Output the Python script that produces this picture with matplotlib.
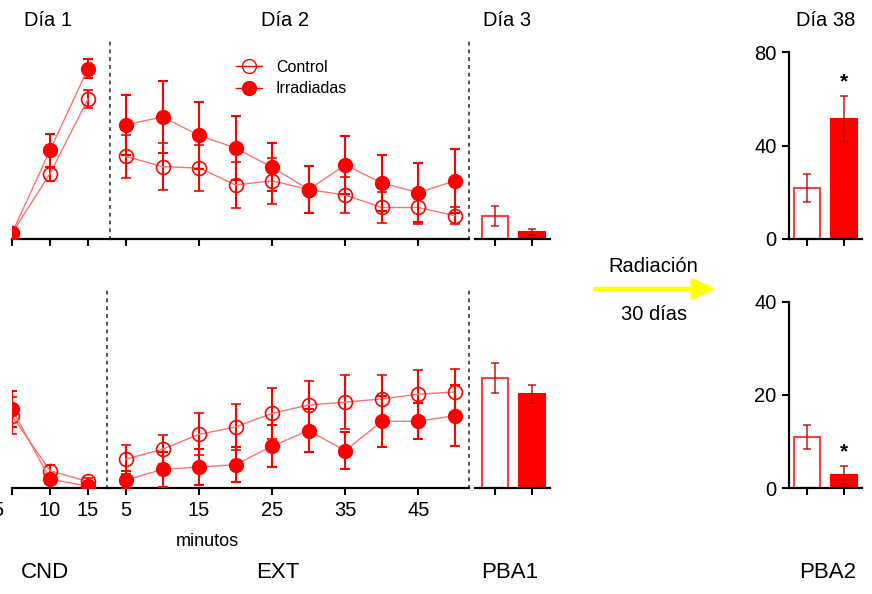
import matplotlib
matplotlib.use("Agg")
import matplotlib.pyplot as plt
import matplotlib.transforms as mtransforms
from matplotlib.lines import Line2D
from matplotlib.patches import FancyArrowPatch

plt.rcParams["font.family"] = ["Liberation Sans", "DejaVu Sans"]

# --- data -------------------------------------------------------------------
cnd_min = [5, 10, 15]
ext_min = [5, 10, 15, 20, 25, 30, 35, 40, 45, 50]
groups = ["Control", "Irradiadas"]

# top row (0-80 scale)
cnd_top_ctrl = [2.5, 28, 60]
cnd_top_ctrl_err = [1.0, 3.0, 4.0]
cnd_top_irr = [2.5, 38, 73]
cnd_top_irr_err = [1.0, 7.0, 4.0]

ext_top_ctrl = [35.4, 31.0, 30.4, 23.2, 24.9, 21.2, 18.8, 13.5, 13.5, 10.0]
ext_top_ctrl_err = [9.3, 10.0, 9.9, 9.9, 9.9, 10.1, 7.6, 6.6, 6.9, 3.7]
ext_top_irr = [49.0, 52.3, 44.4, 39.0, 30.7, 21.2, 31.7, 24.0, 19.9, 24.9]
ext_top_irr_err = [12.8, 15.3, 14.4, 13.6, 10.3, 9.9, 12.5, 12.0, 12.6, 13.6]

pba1_top = [10.0, 2.9]
pba1_top_err = [4.3, 1.3]
pba2_top = [21.9, 51.4]
pba2_top_err = [5.9, 9.9]

# bottom row (0-40 scale)
cnd_bot_ctrl = [15.5, 3.7, 1.4]
cnd_bot_ctrl_err = [3.9, 1.3, 0.8]
cnd_bot_irr = [16.9, 1.9, 0.4]
cnd_bot_irr_err = [3.9, 0.8, 0.5]

ext_bot_ctrl = [6.2, 8.3, 11.5, 13.1, 16.0, 17.8, 18.4, 19.1, 20.1, 20.6]
ext_bot_ctrl_err = [3.1, 3.1, 4.5, 4.9, 5.5, 5.1, 5.8, 5.1, 5.3, 4.9]
ext_bot_irr = [1.7, 4.0, 4.5, 5.0, 9.0, 12.3, 8.0, 14.3, 14.3, 15.5]
ext_bot_irr_err = [2.0, 3.7, 3.9, 3.8, 4.4, 4.6, 3.9, 5.5, 3.9, 6.6]

pba1_bot = [23.6, 20.2]
pba1_bot_err = [3.2, 1.9]
pba2_bot = [11.0, 2.85]
pba2_bot_err = [2.6, 1.9]

RED = "#ff0000"
LINE = "#ff7070"
BAR_ERR = "#b80000"

W, H = 872, 594
fig = plt.figure(figsize=(W / 100, H / 100), dpi=100)


def box(x0, y0, x1, y1):
    return [x0 / W, 1 - y1 / H, (x1 - x0) / W, (y1 - y0) / H]


def style_axis(ax, xticks, labels=None, fs=14.5):
    for s in ("top", "right", "left"):
        ax.spines[s].set_visible(False)
    ax.spines["bottom"].set_linewidth(1.6)
    ax.set_yticks([])
    ax.set_xticks(xticks)
    ax.tick_params(axis="x", length=5, width=1.5, direction="out", pad=4,
                   labelsize=fs)
    if labels is None:
        ax.set_xticklabels([])
    else:
        ax.set_xticklabels(labels)
    ax.patch.set_alpha(0)


def curves(ax, x, yc, ec, yi, ei):
    ax.errorbar(x, yc, yerr=ec, fmt="o", ms=10, mfc="none", mec=RED, mew=1.2,
                ecolor=RED, elinewidth=1.5, capsize=3.5, capthick=1.5, ls="-",
                color=LINE, lw=1.0, zorder=3)
    ax.errorbar(x, yi, yerr=ei, fmt="o", ms=10, mfc=RED, mec=RED,
                ecolor=RED, elinewidth=1.5, capsize=3.5, capthick=1.5, ls="-",
                color=LINE, lw=1.0, zorder=4)


def bars(ax, vals, errs):
    xs = [0, 1]
    ax.bar(xs, vals, width=0.7, color=["white", RED],
           edgecolor=["#ff4040", RED], linewidth=1.5, zorder=2)
    ax.errorbar(xs, vals, yerr=errs, fmt="none", ecolor=BAR_ERR, alpha=0.75,
                elinewidth=1.3, capsize=3, capthick=1.3, zorder=3)


def dotted(ax):
    for s in ("left", "right"):
        ax.spines[s].set_visible(True)
        ax.spines[s].set_linestyle((0, (1, 3)))
        ax.spines[s].set_linewidth(1.4)
        ax.spines[s].set_color("#555555")


TOP_MAX = 80 * 199 / 186.7
BOT_MAX = 40 * 198 / 186.6

# --- top row ----------------------------------------------------------------
ax = fig.add_axes(box(12, 40, 110, 239))
curves(ax, cnd_min, cnd_top_ctrl, cnd_top_ctrl_err, cnd_top_irr, cnd_top_irr_err)
ax.set_xlim(5, 17.9)
ax.set_ylim(0, TOP_MAX)
style_axis(ax, cnd_min)

ax = fig.add_axes(box(110, 40, 469, 239))
curves(ax, ext_min, ext_top_ctrl, ext_top_ctrl_err, ext_top_irr, ext_top_irr_err)
ax.set_xlim(2.81, 51.92)
ax.set_ylim(0, TOP_MAX)
style_axis(ax, [5, 15, 25, 35, 45])
dotted(ax)

ax = fig.add_axes(box(475, 40, 550, 239))
bars(ax, pba1_top, pba1_top_err)
ax.set_xlim(-0.54, 1.49)
ax.set_ylim(0, TOP_MAX)
style_axis(ax, [0, 1])

ax = fig.add_axes(box(789, 52.3, 862, 239))
bars(ax, pba2_top, pba2_top_err)
ax.set_xlim(-0.49, 1.49)
ax.set_ylim(0, 80)
style_axis(ax, [0, 1])
ax.spines["left"].set_visible(True)
ax.spines["left"].set_linewidth(1.6)
ax.set_yticks([0, 40, 80])
ax.tick_params(axis="y", length=5, width=1.5, labelsize=14.5, pad=4)
ax.text(1, pba2_top[1] + pba2_top_err[1] + 2, "*", ha="center", va="bottom",
        fontsize=15, fontweight="bold", clip_on=False)

# --- bottom row -------------------------------------------------------------
ax = fig.add_axes(box(12, 290, 107, 488))
curves(ax, cnd_min, cnd_bot_ctrl, cnd_bot_ctrl_err, cnd_bot_irr, cnd_bot_irr_err)
ax.set_xlim(5, 17.5)
ax.set_ylim(0, BOT_MAX)
style_axis(ax, cnd_min, [str(v) for v in cnd_min])
first = ax.get_xticklabels()[0]
first.set_transform(first.get_transform() +
                    mtransforms.ScaledTranslation(-0.14, 0, fig.dpi_scale_trans))

ax = fig.add_axes(box(107, 290, 469, 488))
curves(ax, ext_min, ext_bot_ctrl, ext_bot_ctrl_err, ext_bot_irr, ext_bot_irr_err)
ax.set_xlim(2.40, 51.92)
ax.set_ylim(0, BOT_MAX)
style_axis(ax, [5, 15, 25, 35, 45], ["5", "15", "25", "35", "45"])
dotted(ax)

ax = fig.add_axes(box(475, 290, 550, 488))
bars(ax, pba1_bot, pba1_bot_err)
ax.set_xlim(-0.54, 1.49)
ax.set_ylim(0, BOT_MAX)
style_axis(ax, [0, 1])

ax = fig.add_axes(box(789, 301.7, 862, 488.3))
bars(ax, pba2_bot, pba2_bot_err)
ax.set_xlim(-0.49, 1.49)
ax.set_ylim(0, 40)
style_axis(ax, [0, 1])
ax.spines["left"].set_visible(True)
ax.spines["left"].set_linewidth(1.6)
ax.set_yticks([0, 20, 40])
ax.tick_params(axis="y", length=5, width=1.5, labelsize=14.5, pad=4)
ax.text(1, pba2_bot[1] + pba2_bot_err[1] + 1, "*", ha="center", va="bottom",
        fontsize=15, fontweight="bold", clip_on=False)

# --- legend -----------------------------------------------------------------
handles = [
    Line2D([], [], color=RED, lw=1.0, marker="o", ms=10, mfc="none", mec=RED),
    Line2D([], [], color=RED, lw=1.0, marker="o", ms=10, mfc=RED, mec=RED),
]
fig.legend(handles, groups, loc="upper left", bbox_to_anchor=(236 / W, 1 - 60 / H),
           frameon=False, fontsize=11.5, handlelength=1.6, handletextpad=0.9,
           borderpad=0, borderaxespad=0, labelspacing=0.4)


# --- labels -----------------------------------------------------------------
def ftext(x, y, s, fs, **kw):
    fig.text(x / W, 1 - y / H, s, fontsize=fs, ha="center", va="center", **kw)


ftext(48, 21, "Día 1", 14.5)
ftext(285, 21, "Día 2", 14.5)
ftext(507, 21, "Día 3", 14.5)
ftext(826, 21, "Día 38", 14.5)
ftext(45, 573, "CND", 16)
ftext(278, 573, "EXT", 16)
ftext(510, 573, "PBA1", 16)
ftext(828, 573, "PBA2", 16)
ftext(207, 541, "minutos", 13)
ftext(653, 267, "Radiación", 14.5)
ftext(654, 314, "30 días", 14.5)

fig.add_artist(FancyArrowPatch((595 / W, 1 - 289 / H), (716 / W, 1 - 289 / H),
                               transform=fig.transFigure,
                               arrowstyle="-|>,head_length=0.65,head_width=0.3",
                               mutation_scale=20, lw=3.2, color="#ffff00",
                               shrinkA=0, shrinkB=0))

fig.savefig("out.png", dpi=100)
